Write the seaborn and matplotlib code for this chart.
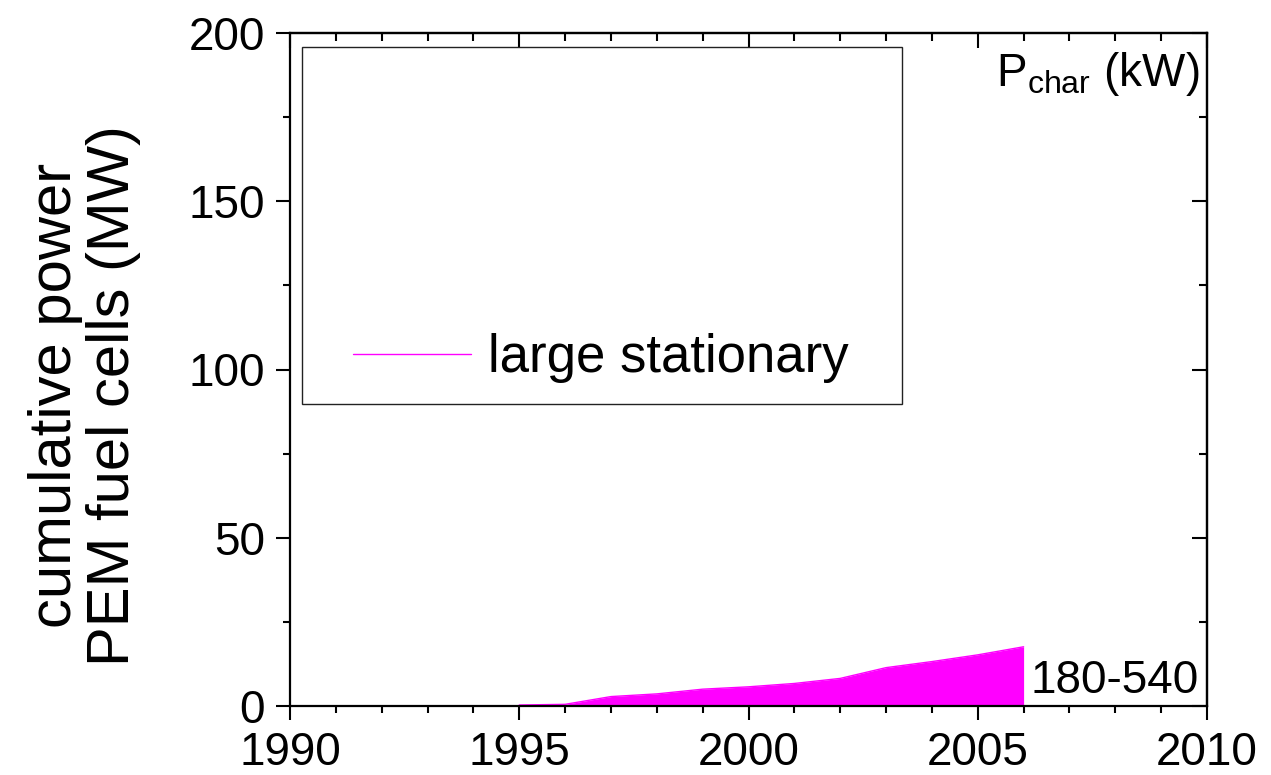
import matplotlib
matplotlib.use("Agg")
import matplotlib.pyplot as plt
from matplotlib.lines import Line2D
from matplotlib.patches import Rectangle
from matplotlib.ticker import MultipleLocator
import numpy as np
import pandas as pd
import seaborn as sns

# Cumulative installed power of large stationary PEM fuel cells (MW)
years = [1995, 1996, 1997, 1998, 1999, 2000, 2001, 2002, 2003, 2004, 2005, 2006]
cum_power_mw = [0.3, 0.5, 2.8, 3.6, 5.0, 5.7, 6.7, 8.2, 11.4, 13.2, 15.2, 17.6]
series_label = "large stationary"
range_label = "180-540"
x_ticks = [1990, 1995, 2000, 2005, 2010]
y_ticks = [0, 50, 100, 150, 200]

df = pd.DataFrame({"year": years, "power": cum_power_mw})

sns.set_style("ticks")
plt.rcParams["font.family"] = ["Liberation Sans", "DejaVu Sans"]
plt.rcParams["mathtext.fontset"] = "custom"
plt.rcParams["mathtext.rm"] = "Liberation Sans"
plt.rcParams["mathtext.it"] = "Liberation Sans:italic"
plt.rcParams["mathtext.bf"] = "Liberation Sans:bold"
for key in ("text.color", "axes.labelcolor", "xtick.color", "ytick.color",
            "axes.edgecolor"):
    plt.rcParams[key] = "black"

MAGENTA = "#FF00FF"

fig = plt.figure(figsize=(12.71, 7.75), dpi=100)
ax = fig.add_axes([290 / 1271, 1 - 706 / 775, 917 / 1271, 673 / 775])

ax.fill_between(df["year"], 0, df["power"], color=MAGENTA, lw=0, zorder=2)
sns.lineplot(data=df, x="year", y="power", color=MAGENTA, lw=1, ax=ax,
             legend=False, zorder=3)

ax.set_xlim(1990, 2010)
ax.set_ylim(0, 200)
ax.set_xticks(x_ticks)
ax.set_yticks(y_ticks)
ax.xaxis.set_minor_locator(MultipleLocator(1))
ax.yaxis.set_minor_locator(MultipleLocator(25))
ax.set_xlabel("")
ax.set_ylabel("cumulative power\nPEM fuel cells (MW)", fontsize=43,
              linespacing=1.05)
ax.yaxis.set_label_coords(-0.163, 0.462)

for sp in ax.spines.values():
    sp.set_visible(True)
    sp.set_linewidth(1.6)
    sp.set_color("black")
    sp.set_zorder(5)

ax.tick_params(axis="x", which="both", direction="out", top=False,
               width=1.5, labelsize=33, pad=8)
ax.tick_params(axis="y", which="both", direction="out", right=False,
               width=1.5, labelsize=33, pad=8)
ax.tick_params(which="major", length=10)
ax.tick_params(which="minor", length=5)

# Inward ticks on the top and right sides
top = ax.secondary_xaxis("top")
top.set_xticks(x_ticks)
top.xaxis.set_minor_locator(MultipleLocator(1))
top.tick_params(which="both", direction="in", labeltop=False, width=1.5)
top.tick_params(which="major", length=11)
top.tick_params(which="minor", length=6)
top.spines["top"].set_linewidth(1.6)

right = ax.secondary_yaxis("right")
right.set_yticks(y_ticks)
right.yaxis.set_minor_locator(MultipleLocator(25))
right.tick_params(which="both", direction="in", labelright=False, width=1.5)
right.tick_params(which="major", length=11)
right.tick_params(which="minor", length=6)
right.spines["right"].set_linewidth(1.6)

# Legend box and entry
ax.add_patch(Rectangle((12 / 917, (706 - 404) / 673), 600 / 917, 357 / 673,
                       transform=ax.transAxes, fill=False, edgecolor="#222222",
                       lw=1.0, zorder=4))
handle = Line2D([], [], color=MAGENTA, lw=1)
ax.legend([handle], [series_label], loc="center left",
          bbox_to_anchor=((353 - 290) / 917, (706 - 358) / 673),
          frameon=False, fontsize=38, handlelength=2.24, handletextpad=0.32,
          borderpad=0, borderaxespad=0)

ax.text(0.992, 0.975, r"P$_{\mathrm{char}}$ (kW)", transform=ax.transAxes,
        ha="right", va="top", fontsize=33)
ax.text(years[-1] + 0.14, 3.9, range_label, ha="left", va="baseline",
        fontsize=33)

fig.savefig("out.png", dpi=100)
